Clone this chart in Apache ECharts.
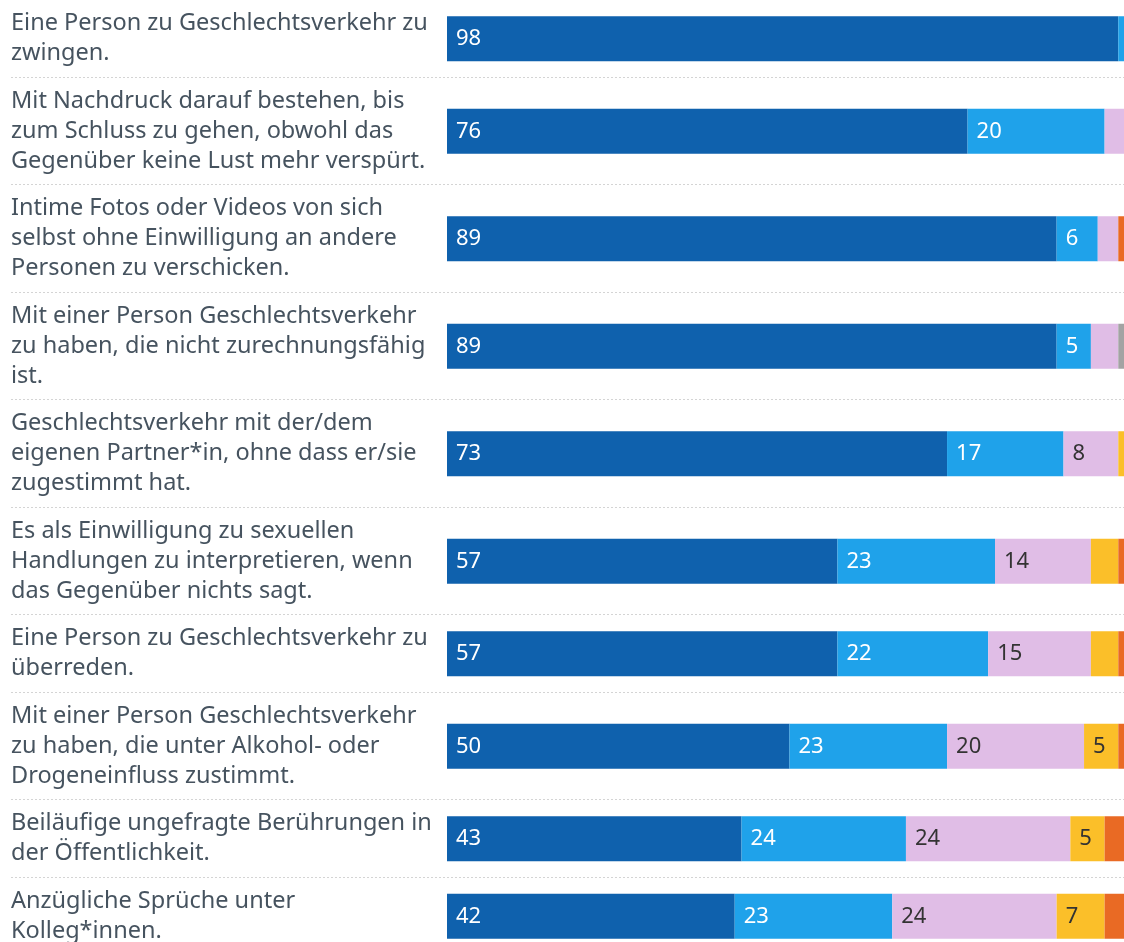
<!DOCTYPE html>
<html>
<head>
<meta charset="utf-8">
<script src="https://cdn.jsdelivr.net/npm/echarts@6/dist/echarts.min.js"></script>
<style>
  html, body { margin: 0; padding: 0; background: #fff; }
  #chart { width: 1124px; height: 942px; }
</style>
</head>
<body>
<div id="chart"></div>
<script>
// Kategorien (Zeilenumbrüche wie im Original)
const categories = [
  'Eine Person zu Geschlechtsverkehr zu\nzwingen.',
  'Mit Nachdruck darauf bestehen, bis\nzum Schluss zu gehen, obwohl das\nGegenüber keine Lust mehr verspürt.',
  'Intime Fotos oder Videos von sich\nselbst ohne Einwilligung an andere\nPersonen zu verschicken.',
  'Mit einer Person Geschlechtsverkehr\nzu haben, die nicht zurechnungsfähig\nist.',
  'Geschlechtsverkehr mit der/dem\neigenen Partner*in, ohne dass er/sie\nzugestimmt hat.',
  'Es als Einwilligung zu sexuellen\nHandlungen zu interpretieren, wenn\ndas Gegenüber nichts sagt.',
  'Eine Person zu Geschlechtsverkehr zu\nüberreden.',
  'Mit einer Person Geschlechtsverkehr\nzu haben, die unter Alkohol- oder\nDrogeneinfluss zustimmt.',
  'Beiläufige ungefragte Berührungen in\nder Öffentlichkeit.',
  'Anzügliche Sprüche unter\nKolleg*innen.'
]

// Antwortkategorien
const seriesNames = ['Sehr schlimm', 'Eher schlimm', 'Teils/teils', 'Eher nicht schlimm', 'Gar nicht schlimm', 'Weiß nicht']

// Werte in Prozent
const sehrSchlimm      = [98, 76, 89, 89, 73, 57, 57, 50, 43, 42]
const eherSchlimm      = [1, 20, 6, 5, 17, 23, 22, 23, 24, 23]
const teilsTeils       = [0, 3, 3, 4, 8, 14, 15, 20, 24, 24]
const eherNichtSchlimm = [0, 0, 0, 0, 1, 4, 4, 5, 5, 7]
const garNichtSchlimm  = [0, 0, 1, 0, 0, 1, 1, 1, 3, 3]
const weissNicht       = [1, 1, 1, 2, 1, 1, 1, 1, 1, 1]

const values = [sehrSchlimm, eherSchlimm, teilsTeils, eherNichtSchlimm, garNichtSchlimm, weissNicht]

// Farben
const colors = ['#0f61ad', '#1fa2ea', '#e0bde6', '#fbbf29', '#e96a24', '#a3a3a3']
const labelColors = ['#ffffff', '#ffffff', '#333333', '#333333', '#333333', '#333333']

// Layout
const lineHeight = 30
const rowPadding = 17.5
const barHeight = 45
const plotLeft = 447
const fullWidth = 685 // Breite von 100 %, der Ausschnitt endet vorher am rechten Rand
const visibleMax = 100 * (1124 - plotLeft) / fullWidth
const fontFamily = '"Noto Sans", sans-serif'

const grids = []
const xAxes = []
const yAxes = []
const series = []
const separators = []

let rowTop = 0
categories.forEach((cat, i) => {
  const lines = cat.split('\n').length
  const rowH = lines * lineHeight + rowPadding
  const center = rowTop + rowH / 2

  grids.push({
    left: plotLeft,
    right: 0,
    top: center - barHeight / 2,
    height: barHeight,
    outerBoundsMode: 'none'
  })
  xAxes.push({
    gridIndex: i,
    type: 'value',
    min: 0,
    max: visibleMax,
    show: false
  })
  yAxes.push({
    gridIndex: i,
    type: 'category',
    data: [cat],
    axisLine: { show: false },
    axisTick: { show: false },
    axisLabel: {
      align: 'left',
      margin: plotLeft - 11,
      color: '#46535f',
      fontSize: 23.5,
      lineHeight: lineHeight,
      fontFamily: fontFamily
    }
  })

  values.forEach((arr, s) => {
    series.push({
      name: seriesNames[s],
      type: 'bar',
      stack: 'row' + i,
      xAxisIndex: i,
      yAxisIndex: i,
      barCategoryGap: 0,
      barWidth: barHeight,
      clip: true,
      itemStyle: { color: colors[s] },
      label: {
        show: true,
        position: 'insideLeft',
        distance: 9,
        color: labelColors[s],
        fontSize: 22,
        fontFamily: fontFamily,
        formatter: (p) => (p.value >= 5 ? p.value : '')
      },
      data: [arr[i]]
    })
  })

  rowTop += rowH
  if (i < categories.length - 1) {
    separators.push({
      type: 'line',
      shape: { x1: 11, y1: Math.round(rowTop) - 0.5, x2: 1124, y2: Math.round(rowTop) - 0.5 },
      style: { stroke: '#d4d4d4', lineWidth: 1, lineDash: [2, 2] },
      silent: true
    })
  }
})

const chart = echarts.init(document.getElementById('chart'))
chart.setOption({
  animation: false,
  tooltip: { trigger: 'item' },
  grid: grids,
  xAxis: xAxes,
  yAxis: yAxes,
  series: series,
  graphic: separators
})

window.addEventListener('resize', () => chart.resize())
</script>
</body>
</html>
